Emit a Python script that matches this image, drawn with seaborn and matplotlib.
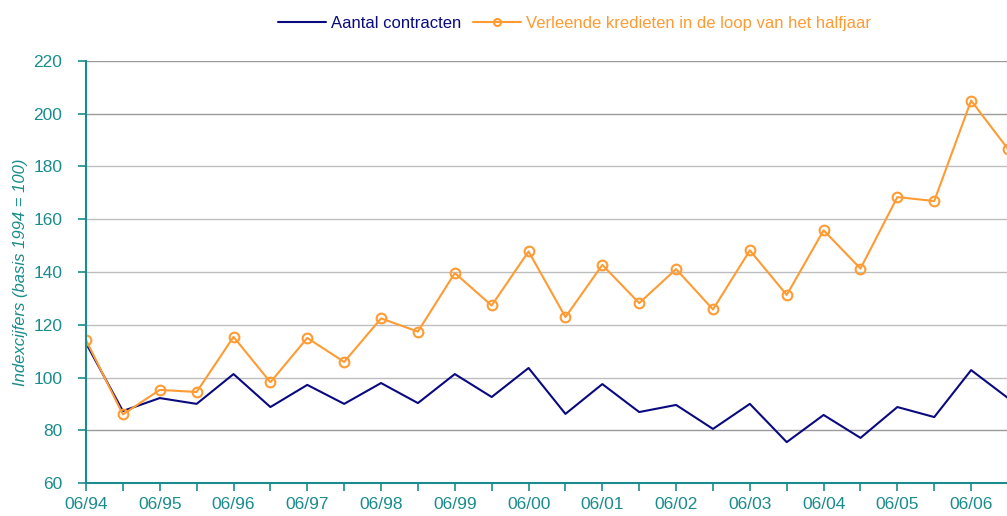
import matplotlib
matplotlib.use("Agg")
import matplotlib.pyplot as plt
import seaborn as sns
import pandas as pd
import numpy as np

periods = ["06/94", "12/94", "06/95", "12/95", "06/96", "12/96", "06/97", "12/97",
           "06/98", "12/98", "06/99", "12/99", "06/00", "12/00", "06/01", "12/01",
           "06/02", "12/02", "06/03", "12/03", "06/04", "12/04", "06/05", "12/05",
           "06/06", "12/06"]
contracten = [113.0, 87.3, 92.2, 90.0, 101.3, 88.8, 97.2, 90.0, 97.9, 90.3,
              101.3, 92.6, 103.6, 86.2, 97.5, 86.9, 89.6, 80.5, 90.0, 75.5,
              85.8, 77.1, 88.8, 85.0, 102.8, 92.2]
kredieten = [114.2, 86.0, 95.3, 94.5, 115.4, 98.2, 115.0, 105.9, 122.4, 117.4,
             139.6, 127.3, 147.8, 122.9, 142.7, 128.2, 141.1, 125.8, 148.2, 131.3,
             155.8, 141.3, 168.4, 166.9, 205.0, 186.6]
ytick_vals = [60, 80, 100, 120, 140, 160, 180, 200, 220]

teal = "#1A8C8C"
navy = "#0A0A80"
orange = "#FF9B33"

sns.set_theme(style="white")
plt.rcParams['font.family'] = ['Liberation Sans', 'DejaVu Sans']

df = pd.DataFrame({"x": np.arange(len(periods)), "c": contracten, "k": kredieten})

fig = plt.figure(figsize=(10.07, 5.16), dpi=100)
ax = fig.add_axes([86/1007, 1-483/516, 1-86/1007 + 0.001, (483-61)/516])

for v in ytick_vals[1:]:
    ax.axhline(v, color="#9a9a9a" if v in (80, 200, 220) else "#bdbdbd", lw=1.0, zorder=0)

sns.lineplot(data=df, x="x", y="c", ax=ax, color=navy, lw=1.5, label="Aantal contracten")
sns.lineplot(data=df, x="x", y="k", ax=ax, color=orange, lw=1.5, marker="o", markersize=7,
             markerfacecolor="none", markeredgecolor=orange, markeredgewidth=1.5,
             label="Verleende kredieten in de loop van het halfjaar")

ax.set_xlim(0, 25)
ax.set_ylim(60, 220)
ax.set_yticks(ytick_vals)
ax.set_xticks(range(len(periods)))
ax.set_xticklabels([p if p.startswith("06") else "" for p in periods])
ax.tick_params(axis="both", colors=teal, labelcolor=teal, labelsize=12.5, length=6, width=1.2,
               direction="out", bottom=True, left=True)
ax.tick_params(axis="x", pad=4)
ax.tick_params(axis="y", pad=11)
for s in ["top", "right"]:
    ax.spines[s].set_visible(False)
for s in ["left", "bottom"]:
    ax.spines[s].set_color(teal)
    ax.spines[s].set_linewidth(1.5)
ax.set_xlabel("")
ax.set_ylabel("Indexcijfers (basis 1994 = 100)", color=teal, fontsize=12, style="italic")
ax.yaxis.set_label_coords((28 - 86) / 921, 0.5)

leg = ax.legend(loc="upper center", bbox_to_anchor=(0.53, 1.143), ncol=2, frameon=False,
                fontsize=12, handlelength=2.9, columnspacing=0.7, handletextpad=0.3)
leg.get_texts()[0].set_color(navy)
leg.get_texts()[1].set_color(orange)
leg.legend_handles[1].set_markersize(5)

fig.savefig("out.png", dpi=100)
